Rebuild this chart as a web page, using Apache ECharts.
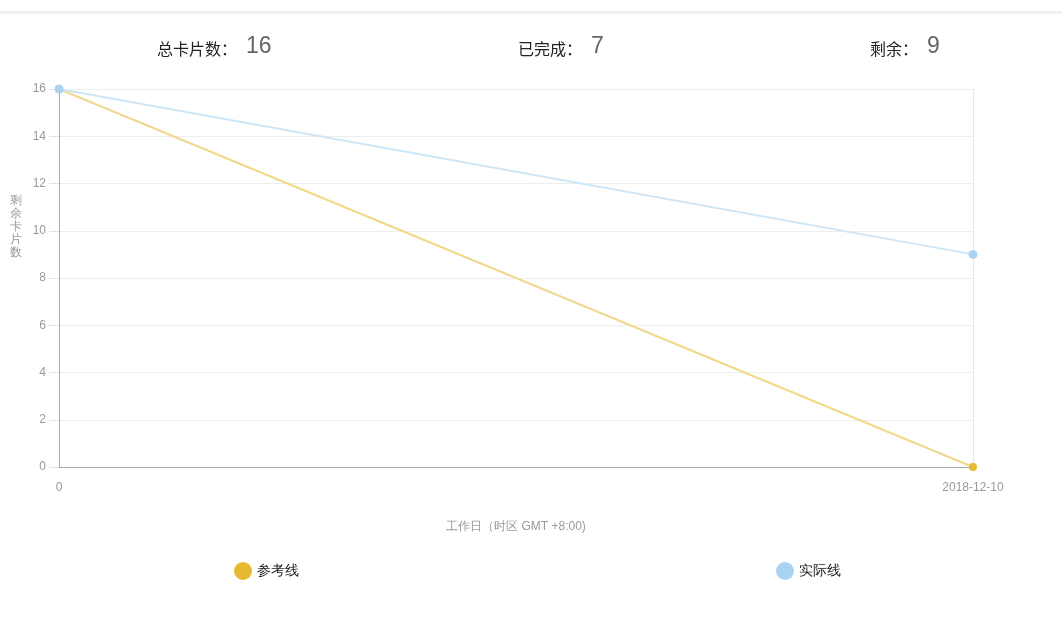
<!DOCTYPE html>
<html><head><meta charset="utf-8">
<script src="https://cdn.jsdelivr.net/npm/echarts@6/dist/echarts.min.js"></script>
<style>
html,body{margin:0;padding:0;background:#fff;font-family:"Noto Sans CJK SC","Liberation Sans",sans-serif;}
#bar{position:absolute;left:0;top:0;width:1062px;height:11px;background:#fff;border-bottom:3px solid #f2f2f2;}
#main{position:absolute;left:0;top:0;width:1062px;height:629px;}
</style></head>
<body>
<div id="bar"></div>
<div id="main"></div>
<script>
const categories = ["0", "2018-12-10"];
const referenceValues = [16, 0];
const actualValues = [16, 9];
const stats = [["总卡片数：", "16"], ["已完成：", "7"], ["剩余：", "9"]];
const seriesNames = ["参考线", "实际线"];
const yAxisName = "剩余卡片数";

const chart = echarts.init(document.getElementById('main'));
const statLeft = [157, 518, 870];
const graphics = stats.map((s, i) => ({
  type: 'text', x: statLeft[i], y: 58,
  style: {
    text: '{a|' + s[0] + '}{b|' + s[1] + '}',
    verticalAlign: 'bottom',
    rich: {
      a: {fontSize: 16, fill: '#222', fontFamily: 'Noto Sans CJK SC', verticalAlign: 'bottom', padding: [0, 0, 1, 0]},
      b: {fontSize: 23, fill: '#666', fontFamily: 'Liberation Sans', verticalAlign: 'bottom', padding: [0, 0, 0, 9]}
    }
  }
}));
graphics.push({
  type: 'text', x: 16, y: 194,
  style: {text: yAxisName.split('').join('\n'), fill: '#999', fontSize: 12, lineHeight: 13, align: 'center'}
});
chart.setOption({
  animation: false,
  graphic: graphics,
  legend: [
    {data: [seriesNames[0]], left: 229, top: 557, icon: 'circle', itemWidth: 18, itemHeight: 18, itemGap: 6,
     textStyle: {fontSize: 14, color: '#222'}},
    {data: [seriesNames[1]], left: 771, top: 557, icon: 'circle', itemWidth: 18, itemHeight: 18,
     textStyle: {fontSize: 14, color: '#222'}}
  ],
  grid: {left: 59, right: 89, top: 89, bottom: 162},
  xAxis: {
    type: 'category', data: categories, boundaryGap: false,
    name: '工作日（时区 GMT +8:00)', nameLocation: 'middle', nameGap: 54,
    nameTextStyle: {color: '#999', fontSize: 12},
    axisLine: {lineStyle: {color: '#aaa'}},
    axisTick: {show: false},
    axisLabel: {color: '#999', fontSize: 12, margin: 15},
    splitLine: {show: true, lineStyle: {color: '#e8e8e8'}}
  },
  yAxis: {
    type: 'value', min: 0, max: 16, interval: 2,
    axisLine: {show: true, lineStyle: {color: '#aaa'}},
    axisTick: {show: true, length: 10, lineStyle: {color: '#e0e0e0'}},
    axisLabel: {color: '#999', fontSize: 12, margin: 13},
    splitLine: {show: true, lineStyle: {color: '#eee'}}
  },
  series: [
    {name: seriesNames[0], type: 'line', data: referenceValues, symbol: 'circle', symbolSize: 8,
     itemStyle: {color: '#E6B930'}, lineStyle: {color: '#F2D88A', width: 2}},
    {name: seriesNames[1], type: 'line', data: actualValues, symbol: 'circle', symbolSize: 9,
     itemStyle: {color: '#A9D3F2'}, lineStyle: {color: '#CDE6F8', width: 2}}
  ]
});
</script>
</body></html>
